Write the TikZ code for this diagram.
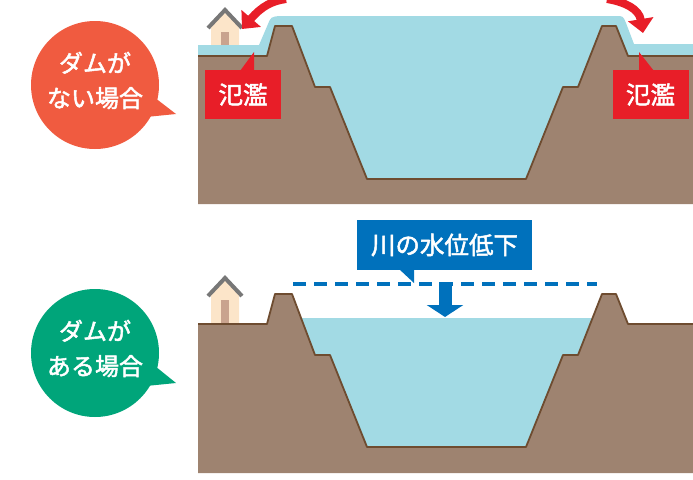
\documentclass[tikz,border=0pt]{standalone}
\usepackage{fontspec}
\newfontfamily\jp[FakeBold=2]{Noto Sans CJK JP}
\usetikzlibrary{arrows.meta}
\definecolor{soil}{HTML}{9E8370}
\definecolor{soilline}{HTML}{6E4C30}
\definecolor{water}{HTML}{A2DAE4}
\definecolor{alarm}{HTML}{E81E28}
\definecolor{bubbleA}{HTML}{F05B40}
\definecolor{bubbleB}{HTML}{00A57A}
\definecolor{signblue}{HTML}{0071BC}
\definecolor{wall}{HTML}{FCE5C9}
\definecolor{door}{HTML}{C9A38E}
\definecolor{roof}{HTML}{777777}
\begin{document}
\begin{tikzpicture}[x=1pt,y=-1pt,
  jptext/.style={font=\jp\fontsize{24.5}{35}\selectfont, text=white},
  bubble/.style={circle, minimum size=128pt, inner sep=0pt},
  bubbletext/.style={jptext, font=\jp\fontsize{24}{35}\selectfont, align=center},
  tag/.style={rectangle, fill=alarm, minimum width=76pt, minimum height=49pt, inner sep=0pt, jptext},
  groundline/.style={draw=soilline, line width=1.8pt, line join=round},
  overflow/.style={draw=alarm, line width=8pt, -{Triangle[width=25pt,length=14pt]}},
  drop/.style={draw=signblue, line width=13pt, -{Triangle[width=36pt,length=12pt]}},
  oldlevel/.style={draw=signblue, line width=3.5pt, dash pattern=on 13pt off 8pt}]
\useasboundingbox (0,0) rectangle (693,479);

% ---------- upper panel: flooding without a dam ----------
% house
\begin{scope}
  \fill[wall] (211,56) -- (211,26) -- (225,12) -- (239,26) -- (239,56) -- cycle;
  \fill[door] (221,32) rectangle (229,56);
  \draw[roof, line width=4pt, line cap=butt, line join=miter] (208,28) -- (225,10) -- (242,28);
\end{scope}
% flood water
\fill[water] (198,45) -- (259,45) -- (268,24) .. controls (271,17) .. (279,16)
  -- (616,16) .. controls (623,16) .. (626,23) -- (634,44) -- (693,44)
  -- (693,190) -- (198,190) -- cycle;
\fill[water, opacity=0.65] (211,45) rectangle (239,56);
% ground
\fill[soil] (198,56) -- (267,56) -- (275,26) -- (292,26) -- (315,87) -- (330,87)
  -- (367,179) -- (526,179) -- (563,87) -- (578,87) -- (602,26) -- (616,26)
  -- (628,56) -- (693,56) -- (693,204) -- (198,204) -- cycle;
\draw[groundline] (198,56) -- (267,56) -- (275,26) -- (292,26) -- (315,87) -- (330,87)
  -- (367,179) -- (526,179) -- (563,87) -- (578,87) -- (602,26) -- (616,26)
  -- (628,56) -- (693,56);
% overflow arrows
\coordinate (ovL0) at (286,-1);
\coordinate (ovL1) at (242,29);
\coordinate (ovR0) at (607,-1);
\coordinate (ovR1) at (643,33);
\draw[overflow] (ovL0) .. controls (272,1) and (262,6) .. (ovL1);
\draw[overflow] (ovR0) .. controls (625,2) and (639,9) .. (ovR1);
% flood tags
\node[tag] (tagL) at (243,94.5) {氾濫};
\fill[alarm] (240,71) -- (254,52) -- (254,71) -- cycle;
\node[tag] (tagR) at (650.5,94.5) {氾濫};
\fill[alarm] (639,71) -- (639,52) -- (654,71) -- cycle;
% speech bubble
\fill[bubbleA] (150,94) -- (176,114) -- (146,117) -- cycle;
\node[bubble, fill=bubbleA] (noDam) at (95,85) {};
\node[bubbletext] (noDamText) at (95,80.5) {ダムが\\ない場合};

% ---------- lower panel: with a dam ----------
\begin{scope}[yshift=-268pt]
  \fill[wall] (211,56) -- (211,26) -- (225,12) -- (239,26) -- (239,56) -- cycle;
  \fill[door] (221,32) rectangle (229,56);
  \draw[roof, line width=4pt, line cap=butt, line join=miter] (208,28) -- (225,10) -- (242,28);
  \fill[water] (290,49) rectangle (620,180);
  \draw[white, line width=1pt] (295,49.5) -- (610,49.5);
  \fill[soil] (198,56) -- (267,56) -- (275,26) -- (292,26) -- (315,87) -- (330,87)
    -- (367,179) -- (526,179) -- (563,87) -- (578,87) -- (602,26) -- (616,26)
    -- (628,56) -- (693,56) -- (693,205) -- (198,205) -- cycle;
  \draw[groundline] (198,56) -- (267,56) -- (275,26) -- (292,26) -- (315,87) -- (330,87)
    -- (367,179) -- (526,179) -- (563,87) -- (578,87) -- (602,26) -- (616,26)
    -- (628,56) -- (693,56);
\end{scope}
% former water level and drop
\coordinate (lvA) at (293,284);
\coordinate (lvB) at (597,284);
\draw[oldlevel] (lvA) -- (lvB);
\coordinate (dropA) at (445,282);
\coordinate (dropB) at (445,317);
\draw[drop] (dropA) -- (dropB);
% label
\node[tag, fill=signblue, minimum width=175pt, minimum height=50pt] (fall) at (444.5,245) {川の水位低下};
\fill[signblue] (399,269) -- (414,269) -- (414,283) -- cycle;
% speech bubble
\fill[bubbleB] (150,362) -- (176,383) -- (146,386) -- cycle;
\node[bubble, fill=bubbleB] (withDam) at (95,353) {};
\node[bubbletext] (withDamText) at (95,348.5) {ダムが\\ある場合};
\end{tikzpicture}
\end{document}
